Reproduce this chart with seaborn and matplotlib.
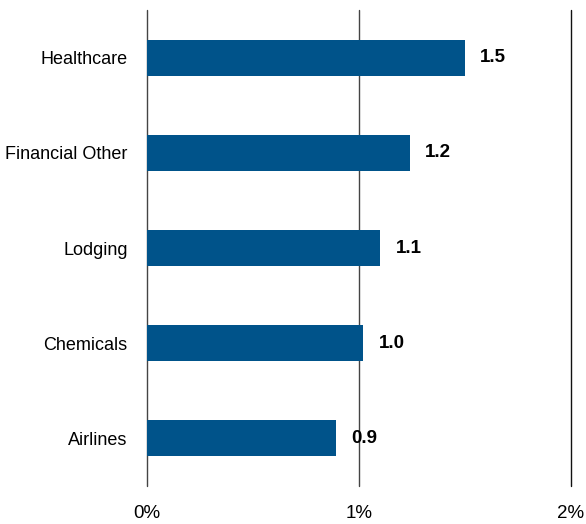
import matplotlib
matplotlib.use("Agg")
import matplotlib.pyplot as plt
import seaborn as sns
import pandas as pd

sectors = ["Healthcare", "Financial Other", "Lodging", "Chemicals", "Airlines"]
values = [1.50, 1.24, 1.10, 1.02, 0.89]
labels = ["1.5", "1.2", "1.1", "1.0", "0.9"]
x_ticks = [0, 1, 2]
x_tick_labels = ["0%", "1%", "2%"]

sns.set_style("white")
plt.rcParams["font.family"] = ["Liberation Sans Narrow", "Liberation Sans", "DejaVu Sans"]
plt.rcParams["text.color"] = "black"
plt.rcParams["xtick.color"] = "black"
plt.rcParams["ytick.color"] = "black"

df = pd.DataFrame({"Sector": sectors, "Value": values})

fig = plt.figure(figsize=(5.86, 5.24), dpi=100)
ax = fig.add_axes([0.2509, 0.0725, 0.7235, 0.9084])

sns.barplot(data=df, x="Value", y="Sector", color="#00538A", saturation=1,
            width=0.38, linewidth=0, ax=ax, zorder=3)

# garis vertikal
for t in x_ticks:
    ax.axvline(t, color="#444444" if t < 2 else "#111111", linewidth=1,
               zorder=1, clip_on=False)

for i, (v, lab) in enumerate(zip(values, labels)):
    ax.annotate(lab, (v, i), xytext=(11, 0), textcoords="offset points",
                va="center", ha="left", fontsize=13.5, fontweight="bold", zorder=4)

ax.set_xlim(0, 2)
ax.set_ylim(4.5, -0.5)
ax.set_xticks(x_ticks)
ax.set_xticklabels(x_tick_labels, fontsize=13.5)
ax.tick_params(axis="y", labelsize=13, length=0, pad=14)
ax.tick_params(axis="x", length=0, pad=14)
ax.set_xlabel("")
ax.set_ylabel("")
for s in ax.spines.values():
    s.set_visible(False)

fig.savefig("out.png", dpi=100)
